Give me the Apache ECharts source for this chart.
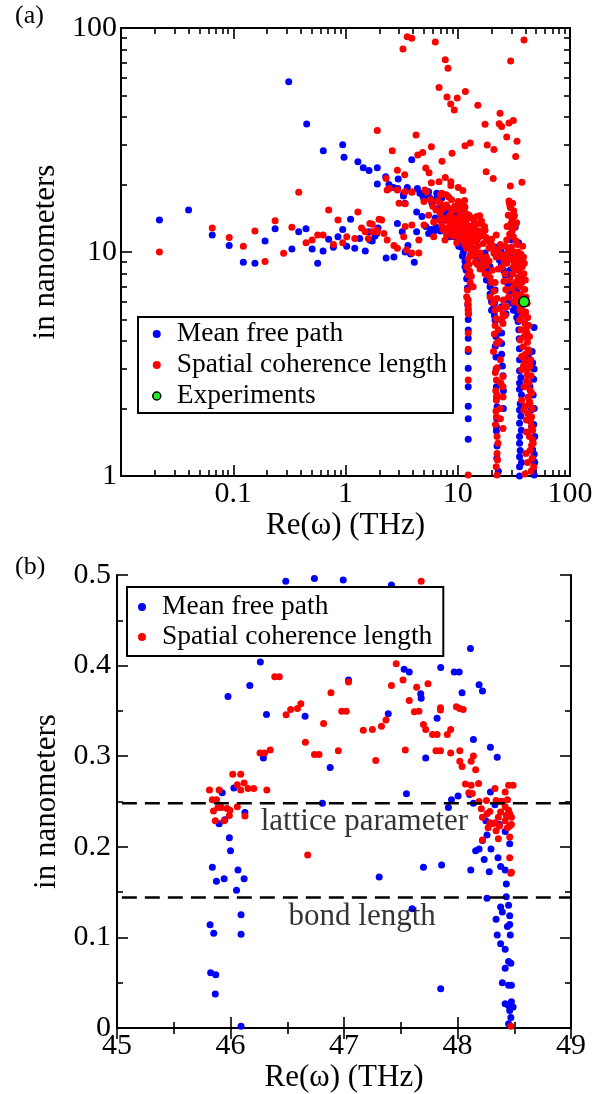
<!DOCTYPE html>
<html>
<head>
<meta charset="utf-8">
<script src="https://cdn.jsdelivr.net/npm/echarts@6/dist/echarts.min.js"></script>
<style>
html,body{margin:0;padding:0;background:#fff;}
#chart{width:606px;height:1094px;}
</style>
</head>
<body>
<div id="chart"></div>
<script>
// ---------- Panel (a) data: [Re(omega) THz, length nm] ----------
const mfpA = [
[0.022,13.9],[0.040,15.4],[0.065,11.9],[0.092,10.7],[0.123,9.0],[0.156,8.9],[0.192,11.2],[0.236,12.7],[0.312,57.6],[0.333,10.3],
[0.383,12.3],[0.445,12.7],[0.451,37.3],[0.504,10.3],[0.565,8.9],[0.631,10.1],[0.634,28.3],[0.708,11.4],[0.78,10.5],[0.857,11.7],
[0.944,30.1],[0.97,26.5],[0.944,12.6],[1.025,10.6],[1.11,14.0],[1.21,10.4],[1.29,25.3],[1.34,11.5],[1.44,23.8],[1.50,10.1],
[1.62,23.1],[1.62,12.3],[1.73,11.2],[1.92,23.8],[1.92,20.1],[1.83,11.8],[1.95,12.8],
[2.28,21.7],[2.95,21.2],[2.44,20.0],[2.67,19.4],[2.92,19.2],[3.55,19.4],[4.37,19.2],[3.28,17.8],[4.8,18.2],[4.94,17.5],
[5.6,17.5],[6.5,17.4],[5.9,17.0],[3.39,16.5],[7.5,18.0],[3.89,25.8],
[3.3,18.2],[4.6,18.3],[5.5,18.6],[6.5,18.3],[4.3,15.1],[5.9,16.5],[6.8,15.7],[7.2,17.4],[4.8,14.4],[7.7,13.9],[9.1,14.4],
[12.9,13.0],[2.9,13.4],[3.2,12.3],[4.3,12.3],[6.1,12.3],[8.5,12.1],[9.8,12.5],[1.65,11.3],[1.9,12.1],[3.6,10.7],[5.5,12.1],
[8.5,11.7],[11.2,10.9],[14.8,11.3],[22.8,10.4],[30.3,11.3],[31.3,13.0],[2.3,9.4],[2.7,9.5],[4.1,9.0],[3.4,10.0],[3.8,9.8],
[11.2,9.9],[11.6,9.1],[14.8,9.2],[17.5,9.9],[19.4,8.6],[22.0,10.5],[24.4,10.0],[29.2,9.5],[11.9,8.3],[12.0,7.6],[18.0,7.5],
[19.4,7.0],[21.5,6.77],[29.2,8.3],[33.5,6.77],[37.1,7.5],[12.2,6.9],[19.4,6.5],[20.1,6.1],[21.8,4.97],[29.2,6.5],[30.3,5.9],
[33.5,5.1],[31.3,5.5],[9.1,12.1],[10.2,10.6],[11.0,9.6],[11.6,8.6],[12.2,7.7],[13.3,10.4],[15.9,8.9],[18.0,8.1],[21.3,5.9],
[22.2,4.3],[32.5,12.9],[34.8,11.0],[35.5,8.9],[36.0,7.8],
[5.2,13.0],[5.8,12.6],[6.4,12.9],[7.0,12.4],[7.6,12.7],[8.0,11.9],[8.8,12.9],[9.3,11.7],[9.8,11.6],[10.4,11.3],[10.8,10.5],
[11.4,10.3],[10.5,12.6],[11.5,11.9],[6.3,14.2],[7.2,14.6],[8.0,14.9],[8.7,15.4],[9.7,14.9],[10.3,14.3],[11.0,13.2],[11.8,12.2],
[12.4,11.0],[13.0,10.7],[13.8,10.0],[14.5,9.6],[15.3,9.3],[16.2,9.0],[17.0,8.6],[17.8,8.3],[18.6,7.7],[19.2,7.4],[20.5,6.7],
[20.8,5.6],[21.2,5.2],[23.5,9.2],[24.5,8.8],[25.5,8.3],[26.5,7.9],[27.5,7.3],[28.5,7.0],[29.5,7.9],[30.5,7.2],[31.5,6.7],
[32.5,6.1],[33.0,5.7],[34.0,5.4],[34.5,4.9],[35.0,4.5],[35.3,4.1],[35.4,3.7],[35.5,3.3],[35.5,2.95],[36.5,2.75],[37.0,2.3],
[36.0,2.1],[36.5,1.85],[36.8,1.6],[36.0,1.3],[37.0,1.15],[12.3,5.8],[12.4,5.0],[12.4,3.6],[12.4,2.5],[12.4,1.8],[21.6,3.8],
[22.0,3.0],[22.2,2.25],[22.3,1.8],[22.3,1.2],[23.0,1.05],[25.0,3.1],[25.3,2.8],[25.5,2.4],[25.5,2.0],
[46.0,3.6],[46.5,3.2],[47.5,2.7],[47.0,2.3],[48.0,2.0],[47.5,1.7],[48.5,1.5],[48.0,1.25],[48.5,1.15],
[12.4,4.49],[12.4,4.12],[12.4,3.03],[12.4,2.05],[12.4,1.46],
[20.0,6.0],[20.0,5.5],[21.5,4.97],[21.9,4.2],[21.9,3.4],[22.1,2.5],[22.4,2.04],[22.1,1.66],[22.1,1.59],[22.4,1.36],
[24.6,5.7],[24.6,4.97],[24.6,4.35],[24.6,3.9],[24.6,3.5],[26.9,6.1],[26.9,5.3],
[35.5,2.6],[35.5,2.44],[35.5,1.97],[35.5,1.72],[35.5,1.5],[35.5,1.4],[35.5,1.22],[35.5,1.1],[35.5,1.0],
[41.3,4.35],[42.5,3.42],[44.0,2.5],[45.0,1.97],[45.5,1.66],[46.5,1.45],[46.5,1.31],[47.1,1.18],[47.1,1.07],[48.0,1.01],
[47.9,4.6],[47.9,3.0]
];
const sclA = [
[0.022,10.0],[0.065,12.8],[0.092,11.6],[0.123,10.6],[0.156,12.4],[0.192,9.06],[0.236,13.8],[0.281,9.87],[0.333,12.9],[0.383,18.5],
[0.445,11.0],[0.504,11.3],[0.565,11.9],[0.631,11.9],[0.708,15.4],[0.78,10.8],[0.857,13.9],[0.944,11.0],[1.025,11.7],[1.21,11.5],
[1.29,15.1],[1.39,12.8],[1.50,12.3],[1.60,11.5],[1.73,13.3],[1.92,34.9],[1.92,12.3],[1.99,14.0],
[3.55,91.4],[3.89,90.0],[3.25,80.6],[6.31,86.6],[7.74,72.2],[8.19,66.1],[6.81,54.2],[8.02,49.2],[8.65,45.8],[9.31,43.0],
[9.9,48.7],[11.7,52.0],[15.1,45.2],[38.9,88.4],[29.6,71.2],[23.8,41.6],[17.5,37.2],[23.4,37.4],[24.6,36.3],[28.6,37.7],
[31.3,38.6],[27.3,32.6],[33.7,31.2],[32.8,26.7],[18.3,30.0],[21.0,28.7],[11.6,29.8],[12.9,30.7],[4.25,33.3],[2.61,28.3],
[4.40,27.1],[4.87,27.8],[5.82,29.5],[8.89,27.6],[7.24,25.4],[5.19,23.7],[5.55,22.6],[2.90,23.2],[3.37,22.1],[2.30,21.3],
[17.9,22.8],[20.7,21.3],[37.3,20.5],[29.4,19.7],[5.82,20.4],[6.81,20.6],[7.74,21.5],[8.68,20.6],[8.68,19.8],[10.1,19.4],
[11.1,18.8],[3.91,18.5],[3.39,18.6],[2.46,19.2],[11.5,17.0],[28.6,16.9],[29.0,16.3],[29.4,15.8],[5.3,18.6],[7.0,18.0],
[2.35,18.9],[2.9,18.9],[3.9,18.6],[5.1,18.9],[7.2,18.3],[7.9,18.0],[3.0,16.5],[3.4,16.4],[5.0,16.8],[5.7,17.1],[7.0,16.5],
[7.9,16.2],[8.8,17.1],[10.1,16.8],[11.6,15.9],[5.5,14.6],[6.4,15.4],[7.0,14.9],[8.5,14.6],[10.5,14.9],[12.0,13.9],[14.8,14.4],
[15.8,13.4],[17.5,12.5],[1.65,13.4],[2.1,13.9],[1.9,12.5],[2.2,12.1],[3.4,13.0],[3.9,13.2],[5.0,13.2],[6.1,13.6],[7.2,13.2],
[9.1,12.7],[11.2,12.3],[13.3,13.0],[1.75,12.3],[2.35,11.3],[2.7,10.7],[3.3,11.7],[4.5,11.3],[6.1,11.7],[7.7,11.3],[10.1,11.7],
[12.0,11.5],[13.8,11.7],[16.9,10.9],[22.0,11.9],[27.3,11.3],[31.3,11.7],[2.9,10.4],[3.5,10.2],[3.9,9.9],[4.5,9.9],[12.0,10.4],
[15.8,9.9],[18.0,9.5],[22.0,9.5],[28.3,10.2],[33.5,9.7],[12.4,9.35],[18.0,8.7],[27.3,8.9],[31.3,8.6],[33.5,9.2],[12.0,8.6],
[12.4,7.9],[12.9,7.3],[15.8,8.4],[17.5,8.0],[19.4,7.7],[21.5,7.3],[26.4,8.0],[29.2,7.5],[34.6,7.7],[35.9,7.0],[27.3,6.77],
[12.2,6.77],[12.0,6.3],[12.3,5.9],[12.4,5.6],[12.5,5.3],[19.4,6.3],[20.7,5.9],[21.5,5.5],[25.5,6.1],[27.3,5.7],[26.4,5.2],
[33.5,6.3],[34.6,5.9],[35.9,5.5],[37.1,5.1],[22.0,5.05],
[8.0,12.0],[8.5,13.3],[9.0,11.8],[9.5,12.9],[9.8,11.0],[10.3,12.4],[10.8,13.2],[11.0,11.3],[11.5,10.8],[12.5,12.0],[13.0,11.0],
[13.5,10.2],[14.2,12.1],[15.0,10.6],[16.2,11.8],[19.0,10.4],[20.0,11.4],[21.0,9.9],[24.0,10.8],[25.5,9.7],[26.5,10.6],[28.0,9.2],
[30.0,10.5],[32.0,10.0],[34.0,10.8],[30.5,12.4],[32.0,14.5],[29.0,12.0],[36.5,6.5],[35.0,8.3],[32.5,7.2],[30.5,6.9],[31.0,8.0],
[32.0,12.9],[33.5,13.5],[31.5,15.3],[30.5,14.0],[15.7,14.5],[16.3,13.7],[17.3,13.0],[14.2,13.0],
[6.0,16.0],[6.6,16.9],[7.4,15.6],[8.1,15.9],[8.3,17.6],[8.9,15.2],[9.4,16.0],[9.6,14.2],[10.0,15.5],[10.6,16.1],[10.9,14.4],
[11.3,15.2],[11.9,14.8],[12.6,14.6],[13.4,14.2],[14.0,13.6],[6.9,13.9],[7.6,14.1],[8.2,13.8],[8.8,14.0],[9.3,13.5],[9.9,13.8],
[10.4,13.5],[11.1,13.9],[11.8,13.2],[12.3,12.8],[12.9,12.4],[13.6,12.6],[7.4,12.6],[8.2,12.8],[8.8,12.4],[9.6,12.2],[10.6,12.0],
[11.4,11.8],[12.2,11.9],[12.8,11.3],[13.3,11.9],[14.4,11.2],[15.2,11.6],[15.6,12.4],[16.7,12.1],[17.9,11.6],[18.7,11.2],[19.7,10.9],
[20.6,10.6],[21.8,10.2],[23.2,10.1],[24.8,9.5],[26.0,9.1],[27.8,9.8],[29.0,10.4],[30.3,9.3],[31.8,9.0],[33.0,8.4],[34.2,8.8],
[35.2,7.7],[33.8,7.4],[36.2,6.1],[32.3,6.5],[31.6,6.0],[28.4,6.3],[26.8,6.8],[25.8,7.4],[24.8,8.6],[23.0,8.4],[20.3,8.3],
[19.0,9.1],[17.0,9.0],[16.2,9.5],[14.6,10.0],[13.9,9.6],[13.0,9.8],[12.7,10.8],[12.6,8.8],[12.8,8.2],[13.2,7.8],[13.7,7.0],
[14.3,9.0],[15.0,8.8],[16.5,8.5],[18.6,7.9],[20.0,7.3],[21.0,6.7],[22.3,6.2],[23.6,5.6],[24.5,5.0],[23.0,4.5],[23.4,4.0],
[21.2,4.3],[20.8,3.6],[24.0,3.3],[21.6,2.9],[24.2,2.6],[21.8,2.4],[23.8,2.0],[21.9,1.95],[24.0,1.8],[21.7,1.7],[22.8,1.4],
[22.0,1.1],[22.6,1.18],
[36.5,9.8],[37.8,10.6],[38.5,9.5],[39.2,8.9],[37.5,8.6],[38.8,8.0],[40.0,7.5],[37.2,7.3],[39.5,6.8],[40.5,6.3],[38.0,6.2],
[41.5,5.9],[40.2,5.4],[42.0,5.1],[43.0,4.7],[40.5,4.5],[43.5,4.2],[39.0,4.2],[41.8,3.95],[43.0,3.6],[40.0,3.5],[44.5,3.3],
[38.5,3.1],[42.0,3.0],[45.0,2.8],[43.0,2.6],[39.0,2.5],[45.5,2.35],[43.5,2.15],[40.0,2.05],[46.0,2.0],[42.0,1.9],[44.5,1.75],
[46.5,1.6],[43.5,1.5],[47.0,1.4],[44.0,1.3],[46.0,1.2],[42.0,1.15],[47.5,1.1],[45.0,1.05],
[28.2,14.6],[29.8,13.4],[30.8,16.5],[27.5,13.0],[33.0,11.2],[34.5,10.0],[35.5,9.3],
[12.4,6.1],[12.4,5.8],[12.4,5.5],[12.4,5.3],[12.4,4.35],[12.4,3.68],[12.4,2.68],[12.4,1.01],
[21.5,4.7],[22.1,3.9],[22.4,3.04],[22.1,2.68],[22.4,2.3],[22.1,2.18],[22.1,1.84],[22.4,1.5],[22.4,1.26],[22.4,1.01],
[25.3,5.3],[25.3,4.8],[25.3,2.78],[25.3,2.5],[25.3,2.25],[25.3,1.63],[26.0,5.7],
[35.9,5.8],[37.1,5.5],[38.3,5.2],[35.6,4.97],[39.7,4.8],[36.6,4.5],[41.0,4.35],[35.9,4.05],[38.3,3.78],[42.5,3.66],[37.1,3.42],
[39.7,3.25],[44.0,3.1],[37.1,2.98],[41.5,2.83],[41.0,2.65],[44.0,2.42],[42.5,2.25],[37.1,2.18],[44.0,2.1],[38.8,1.97],[45.5,1.84],
[41.0,1.78],[45.5,1.66],[41.0,1.57],[46.5,1.45],[45.5,1.37],[40.5,1.26],[39.7,1.02]
];
const expA = [[39, 6.0]];

// tick values (panel a, log axes)
const xMinorTicksA = [0.02,0.03,0.04,0.05,0.06,0.07,0.08,0.09,0.2,0.3,0.4,0.5,0.6,0.7,0.8,0.9,2,3,4,5,6,7,8,9,20,30,40,50,60,70,80,90];
const yMinorTicksA = [2,3,4,5,6,7,8,9,20,30,40,50,60,70,80,90];

// ---------- Panel (b) data ----------
const mfpB = [
[46.487,0.493],[46.739,0.496],[46.993,0.4946],[47.418,0.489],[47.852,0.398],[47.971,0.393],[48.015,0.393],[48.04,0.370],[48.114,0.419],
[48.19,0.379],[48.22,0.372],[47.53,0.396],[47.575,0.393],[47.676,0.369],[47.68,0.364],[47.82,0.342],[47.72,0.298],[47.55,0.2585],
[47.39,0.347],[47.04,0.384],[46.657,0.344],[46.878,0.2876],[46.81,0.248],[46.317,0.346],[46.29,0.298],[46.263,0.404],[46.17,0.378],
[45.978,0.366],[46.03,0.265],[45.927,0.2597],[45.95,0.230],[45.90,0.2256],[45.99,0.210],[46.0,0.1957],[45.84,0.1775],[45.876,0.162],
[45.944,0.1647],[46.066,0.1744],[46.053,0.152],[46.12,0.1647],[46.127,0.238],[46.093,0.125],[46.093,0.1035],[45.82,0.114],
[45.852,0.1047],[45.825,0.061],[45.87,0.059],[45.866,0.0376],[46.093,0.002],[47.31,0.1667],[47.60,0.1318],[47.70,0.1775],
[47.86,0.180],[47.852,0.0434],[47.92,0.2434],[47.947,0.252],[48.005,0.256],[48.107,0.2578],[48.117,0.1744],[48.14,0.248],
[48.14,0.3186],[48.16,0.1957],[48.19,0.1977],[48.22,0.207],[48.235,0.186],[48.26,0.213],[48.25,0.2287],[48.26,0.1434],
[48.28,0.1725],[48.295,0.1977],[48.29,0.2605],[48.29,0.310],[48.35,0.299],[48.34,0.120],[48.35,0.1027],[48.357,0.188],
[48.38,0.1783],[48.42,0.1744],[48.38,0.1337],[48.395,0.128],[48.38,0.093],[48.42,0.087],[48.42,0.066],[48.395,0.050],
[48.43,0.145],[48.43,0.159],[48.44,0.112],[48.45,0.0736],[48.45,0.1357],[48.46,0.124],[48.46,0.1143],[48.465,0.1027],
[48.46,0.2035],[48.47,0.0717],[48.45,0.0473],[48.475,0.0473],[48.45,0.025],[48.475,0.029],[48.49,0.0233],[48.46,0.0194],
[48.47,0.0116],[48.45,0.0047],[48.42,0.027],[48.42,0.217],[48.33,0.2465],[48.37,0.2248]
];
const sclB = [
[47.68,0.493],[47.46,0.402],[47.418,0.378],[47.52,0.384],[47.64,0.376],[47.74,0.380],[47.575,0.3616],[47.62,0.349],[47.66,0.3496],
[47.70,0.335],[47.72,0.3295],[47.78,0.324],[47.82,0.324],[47.85,0.3535],[47.85,0.351],[47.94,0.3295],[47.91,0.324],[47.99,0.3547],
[48.02,0.3527],[48.05,0.3515],[47.81,0.306],[47.85,0.306],[47.94,0.3035],[48.02,0.306],[48.02,0.2946],[48.04,0.2888],[48.12,0.2946],
[48.14,0.3004],[48.16,0.285],[48.186,0.270],[48.12,0.268],[48.10,0.2597],[48.13,0.259],[47.54,0.307],[47.37,0.340],[47.33,0.333],
[47.25,0.3295],[47.17,0.3287],[47.28,0.2953],[46.95,0.306],[46.98,0.3496],[47.02,0.3496],[46.885,0.370],[47.04,0.3818],[46.82,0.336],
[46.74,0.302],[46.78,0.302],[46.66,0.3155],[46.49,0.3457],[46.53,0.3515],[46.59,0.3527],[46.62,0.3578],[46.39,0.3876],[46.43,0.3876],
[46.35,0.307],[46.26,0.3035],[46.30,0.3035],[46.32,0.2628],[46.02,0.280],[46.09,0.280],[46.06,0.2686],[46.12,0.2705],[46.09,0.2628],
[46.155,0.2643],[46.205,0.2643],[45.815,0.2628],[45.90,0.2628],[45.84,0.252],[45.876,0.252],[45.85,0.2395],[45.89,0.2434],
[45.92,0.2434],[45.97,0.2422],[45.995,0.2403],[45.866,0.2287],[45.944,0.2287],[45.99,0.2345],[46.06,0.2442],[46.127,0.234],
[46.68,0.191],[48.07,0.2694],[48.19,0.25],[48.21,0.242],[48.255,0.2512],[48.22,0.2326],[48.26,0.2364],[48.285,0.239],[48.285,0.2267],
[48.34,0.2512],[48.33,0.2643],[48.36,0.2326],[48.37,0.223],[48.38,0.2384],[48.395,0.25],[48.42,0.2605],[48.45,0.268],[48.49,0.268],
[48.42,0.2287],[48.43,0.2345],[48.45,0.2403],[48.46,0.2364],[48.475,0.2326],[48.44,0.221],[48.46,0.223],[48.475,0.2248],[48.36,0.209],
[48.33,0.2267],[48.22,0.2076],[48.38,0.25],[48.46,0.211],[48.46,0.188],[48.47,0.171],[48.475,0.172],[48.47,0.002],[48.34,0.2178],
[48.31,0.2256],[48.27,0.221],[48.42,0.2442],[48.44,0.252]
];
const latticeLine = [[44.84, 0.248], [49, 0.248]];
const bondLine = [[44.84, 0.144], [49, 0.144]];
const annotationsB = [
  {name: 'lattice parameter', value: [47.18, 0.2275]},
  {name: 'bond length', value: [47.16, 0.123]}
];

const FONT = "'Liberation Serif', 'Times New Roman', Times, serif";
const BLUE = '#0000ff', RED = '#ff0000', GREEN = '#22ee22';
const DOT = 7;

function logAxis(gridIndex, dim, position, opts) {
  const a = {
    type: 'log', logBase: 10, gridIndex, position,
    min: dim === 'x' ? 0.01 : 1, max: 100,
    splitLine: {show: false},
    axisLine: {show: !opts.minor, lineStyle: {color: '#000', width: 2}},
    axisTick: {show: true, inside: true, length: opts.minor ? 6 : 11, lineStyle: {color: '#000', width: 1.6}},
    axisLabel: {show: false},
    minorTick: {show: false}
  };
  if (opts.minor) a.axisTick.customValues = dim === 'x' ? xMinorTicksA : yMinorTicksA;
  if (opts.labels) {
    a.axisLabel = {show: true, fontFamily: FONT, fontSize: 30, color: '#000',
      margin: dim === 'x' ? 3 : 4, showMinLabel: dim === 'x' ? false : true};
  }
  if (opts.name) {
    a.name = opts.name; a.nameLocation = 'middle'; a.nameGap = opts.nameGap;
    a.nameTextStyle = {fontFamily: FONT, fontSize: 31, color: '#000'};
  }
  return a;
}
function valAxis(gridIndex, dim, position, opts) {
  const a = {
    type: 'value', gridIndex, position,
    min: dim === 'x' ? 45 : 0, max: dim === 'x' ? 49 : 0.5, interval: dim === 'x' ? 1 : 0.1,
    splitLine: {show: false},
    axisLine: {show: true, lineStyle: {color: '#000', width: 2}},
    axisTick: {show: true, inside: true, length: 11, lineStyle: {color: '#000', width: 1.6}},
    minorTick: {show: true, splitNumber: 2, length: 6, lineStyle: {color: '#000', width: 1.6}},
    axisLabel: {show: false}
  };
  if (opts.labels) {
    a.axisLabel = {show: true, fontFamily: FONT, fontSize: 30, color: '#000', margin: dim === 'x' ? 3 : 6};
  }
  if (opts.name) {
    a.name = opts.name; a.nameLocation = 'middle'; a.nameGap = opts.nameGap;
    a.nameTextStyle = {fontFamily: FONT, fontSize: 31, color: '#000'};
  }
  return a;
}

const chart = echarts.init(document.getElementById('chart'), null, {renderer: 'canvas'});
const option = {
  animation: false,
  backgroundColor: '#fff',
  textStyle: {fontFamily: FONT, color: '#000'},
  title: [
    {text: '(a)', left: 15, top: 3, padding: 0, textStyle: {fontFamily: FONT, fontSize: 26, fontWeight: 'normal', color: '#000'}},
    {text: '(b)', left: 15, top: 554, padding: 0, textStyle: {fontFamily: FONT, fontSize: 26, fontWeight: 'normal', color: '#000'}}
  ],
  grid: [
    {left: 121, top: 28, width: 449, height: 448, containLabel: false},
    {left: 117, top: 575, width: 454, height: 455, containLabel: false}
  ],
  xAxis: [
    logAxis(0, 'x', 'bottom', {labels: true, name: 'Re(ω) (THz)', nameGap: 31}),
    logAxis(0, 'x', 'bottom', {minor: true}),
    logAxis(0, 'x', 'top', {}),
    logAxis(0, 'x', 'top', {minor: true}),
    valAxis(1, 'x', 'bottom', {labels: true, name: 'Re(ω) (THz)', nameGap: 32}),
    valAxis(1, 'x', 'top', {})
  ],
  yAxis: [
    logAxis(0, 'y', 'left', {labels: true, name: 'in nanometers', nameGap: 51}),
    logAxis(0, 'y', 'left', {minor: true}),
    logAxis(0, 'y', 'right', {}),
    logAxis(0, 'y', 'right', {minor: true}),
    valAxis(1, 'y', 'left', {labels: true, name: 'in nanometers', nameGap: 47}),
    valAxis(1, 'y', 'right', {})
  ],
  legend: [
    {
      data: ['Mean free path', 'Spatial coherence length', {name: 'Experiments', itemStyle: {borderWidth: 1.5}}],
      orient: 'vertical', left: 138, top: 317, padding: [2, 6, 2, 14],
      itemWidth: 30, itemHeight: 8, itemGap: 1, icon: 'circle', selectedMode: false,
      borderColor: '#000', borderWidth: 2, backgroundColor: '#fff', borderRadius: 0,
      textStyle: {fontFamily: FONT, fontSize: 27.5, color: '#000', lineHeight: 30}
    },
    {
      data: ['Mean free path', 'Spatial coherence length'],
      orient: 'vertical', left: 127, top: 587, padding: [5, 11, 4, 11],
      itemWidth: 30, itemHeight: 8, itemGap: 0, icon: 'circle', selectedMode: false,
      borderColor: '#000', borderWidth: 2, backgroundColor: '#fff', borderRadius: 0,
      textStyle: {fontFamily: FONT, fontSize: 27.5, color: '#000', lineHeight: 30}
    }
  ],
  series: [
    {type: 'scatter', name: 'Mean free path', xAxisIndex: 0, yAxisIndex: 0, data: mfpA,
      symbolSize: DOT, itemStyle: {color: BLUE, opacity: 1}, emphasis: {disabled: true}},
    {type: 'scatter', name: 'Spatial coherence length', xAxisIndex: 0, yAxisIndex: 0, data: sclA,
      symbolSize: DOT, itemStyle: {color: RED, opacity: 1}, emphasis: {disabled: true}},
    {type: 'scatter', name: 'Experiments', xAxisIndex: 0, yAxisIndex: 0, data: expA,
      symbolSize: 10.5, itemStyle: {color: GREEN, borderColor: '#000', borderWidth: 1.5, opacity: 1}, emphasis: {disabled: true}},
    {type: 'scatter', name: 'Mean free path', xAxisIndex: 4, yAxisIndex: 4, data: mfpB,
      symbolSize: DOT, itemStyle: {color: BLUE, opacity: 1}, emphasis: {disabled: true}},
    {type: 'scatter', name: 'Spatial coherence length', xAxisIndex: 4, yAxisIndex: 4, data: sclB,
      symbolSize: DOT, itemStyle: {color: RED, opacity: 1}, emphasis: {disabled: true}},
    {type: 'line', name: 'lattice', xAxisIndex: 4, yAxisIndex: 4, data: latticeLine, symbol: 'none', clip: false,
      lineStyle: {color: '#000', width: 2.5, type: [15, 8]}, emphasis: {disabled: true}, silent: true},
    {type: 'line', name: 'bond', xAxisIndex: 4, yAxisIndex: 4, data: bondLine, symbol: 'none', clip: false,
      lineStyle: {color: '#000', width: 2.5, type: [15, 8]}, emphasis: {disabled: true}, silent: true},
    {type: 'scatter', name: 'notes', xAxisIndex: 4, yAxisIndex: 4, data: annotationsB, symbolSize: 1,
      itemStyle: {color: 'transparent'}, silent: true, emphasis: {disabled: true},
      label: {show: true, position: 'inside', formatter: p => p.name, fontFamily: FONT, fontSize: 31, color: '#000'}}
  ]
};
chart.setOption(option);
</script>
</body>
</html>
